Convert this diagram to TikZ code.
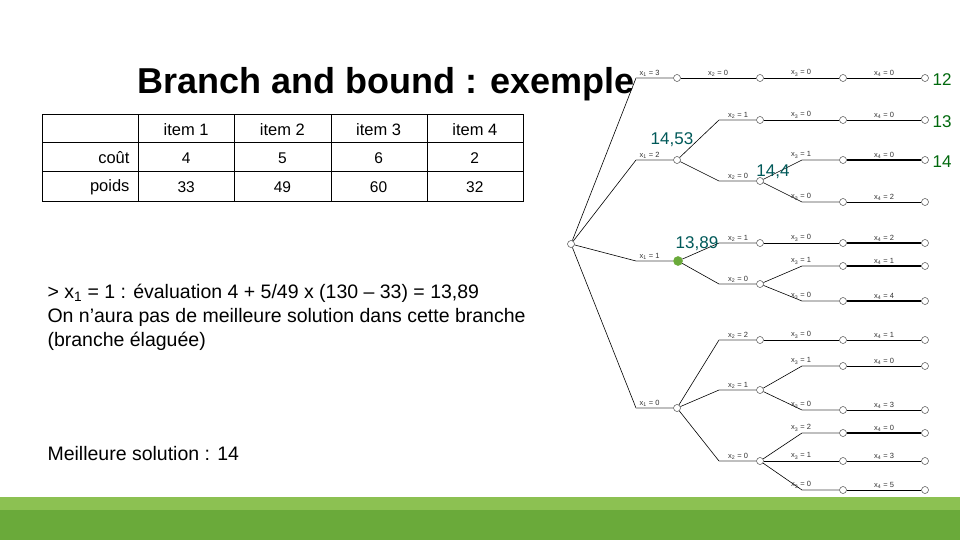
\documentclass[tikz,border=0pt]{standalone}
\usepackage{fontspec}
\setmainfont{Liberation Sans}
\begin{document}
\begin{tikzpicture}[x=1pt,y=-1pt,
  nd/.style={circle,draw=black!70,fill=white,inner sep=0pt,minimum size=7pt,line width=0.5pt},
  lab/.style={font=\fontsize{7.5}{8}\selectfont,text=black!80,anchor=south,inner sep=1.5pt},
  sc/.style={font=\fontsize{17}{18}\selectfont,text=green!40!black!90!teal},
  bd/.style={font=\fontsize{17}{18}\selectfont,text=teal!70!black},
  ed/.style={line width=0.6pt},
  lg/.style={line width=1.2pt,black!25},
  tk/.style={line width=1.4pt},
  tb/.style={font=\fontsize{16.5}{18}\selectfont},
  tn/.style={font=\fontsize{15.5}{18}\selectfont},
  tt/.style={font=\fontsize{19.5}{22}\selectfont,anchor=west}]
\definecolor{gA}{HTML}{8CC152}\definecolor{gB}{HTML}{6AAA3A}
\useasboundingbox (0,0) rectangle (960,540);
\fill[white] (0,0) rectangle (960,540);
\fill[gA] (0,497) rectangle (960,510);
\fill[gB] (0,510) rectangle (960,540);
\node[font=\fontsize{36}{40}\selectfont\bfseries] (title) at (386,84) {Branch and bound : exemple};
% table
\draw[line width=1pt] (42,115) rectangle (523,201);
\foreach \x in {138,234,331,427} \draw[line width=1pt] (\x,115) -- (\x,201);
\draw[line width=1pt] (42,143) -- (523,143) (42,172) -- (523,172);
\foreach \t [count=\i] in {item 1,item 2,item 3,item 4}
  \node[tb] (h\i) at (90+96.2*\i,130) {\t};
\node[tb,anchor=east] (rc) at (133,158) {coût};
\node[tb,anchor=east] (rp) at (133,187) {poids};
\foreach \t [count=\i] in {4,5,6,2}
  \node[tn] (k\i) at (90+96.2*\i,158) {\t};
\foreach \t [count=\i] in {33,49,60,32}
  \node[tn] (p\i) at (90+96.2*\i,187) {\t};
% text
\node[tt] (t1) at (44,293) {> x\textsubscript{1} = 1 : évaluation 4 + 5/49 x (130 – 33) = 13,89};
\node[tt] (t2) at (44,317) {On n’aura pas de meilleure solution dans cette branche};
\node[tt] (t3) at (44,341) {(branche élaguée)};
\node[tt] (t4) at (44,454) {Meilleure solution : 14};
% tree nodes
\node[nd] (r) at (571,244) {};
\node[nd] (a3) at (677,78) {};
\node[nd] (a2) at (677,160) {};
\node[nd,fill=gB,draw=gB,minimum size=9pt] (a1) at (678,261) {};
\node[nd] (a0) at (677,408) {};
\node[nd] (b1) at (760,78) {};
\node[nd] (b2) at (760,120) {};
\node[nd] (b3) at (760,181) {};
\node[nd] (b4) at (760,243) {};
\node[nd] (b5) at (760,284) {};
\node[nd] (b6) at (760,340) {};
\node[nd] (b7) at (760,390) {};
\node[nd] (b8) at (760,461) {};
\foreach \y [count=\i] in {78,120,160,202,243,266,301,340,366,410,433,461,490}{
  \node[nd] (c\i) at (843,\y) {};
  \node[nd] (d\i) at (925,\y) {};
}
% level 1 edges
\foreach \n/\y/\t in {a3/78/3,a2/160/2,a1/261/1,a0/408/0}{
  \coordinate (e\n) at (636,\y);
  \draw[ed] (r) -- (e\n);
  \draw[lg] (e\n) -- (\n);
  \node[lab,anchor=south west] at (638,\y) {x\textsubscript{1} = \t};
}
% level 2
\draw[ed] (a3) -- (b1); \node[lab] at (718,78) {x\textsubscript{2} = 0};
\foreach \p/\n/\y/\t in {a2/b2/120/1,a2/b3/181/0,a1/b4/243/1,a1/b5/284/0,a0/b6/340/2,a0/b7/390/1,a0/b8/461/0}{
  \coordinate (f\n) at (719,\y);
  \draw[ed] (\p) -- (f\n);
  \draw[lg] (f\n) -- (\n);
  \node[lab] at (738,\y) {x\textsubscript{2} = \t};
}
% level 3
\foreach \p/\i/\t/\el in {b1/1/0/0,b2/2/0/0,b3/3/1/1,b3/4/0/1,b4/5/0/0,b5/6/1/1,b5/7/0/1,b6/8/0/0,b7/9/1/1,b7/10/0/1,b8/11/2/1,b8/12/1/0,b8/13/0/1}{
  \ifnum\el=1
    \path (c\i) ++(-41,0) coordinate (g\i);
    \draw[ed] (\p) -- (g\i);
    \draw[lg] (g\i) -- (c\i);
  \else
    \draw[ed] (\p) -- (c\i);
  \fi
  \path (c\i) ++(-42,0) node[lab] {x\textsubscript{3} = \t};
}
% level 4
\foreach \i/\t/\w in {1/0/0,2/0/0,3/0/1,4/2/0,5/2/1,6/1/1,7/4/1,8/1/0,9/0/0,10/3/0,11/0/1,12/3/0,13/5/0}{
  \ifnum\w=1 \draw[tk] (c\i) -- (d\i); \else \draw[ed] (c\i) -- (d\i); \fi
  \path (c\i) ++(41,0) node[lab] {x\textsubscript{4} = \t};
}
\node[sc,anchor=west] (s12) at (929,80) {12};
\node[sc,anchor=west] (s13) at (929,122) {13};
\node[sc,anchor=west] (s14) at (929,162) {14};
\node[bd] (v1) at (672,140) {14,53};
\node[bd] (v2) at (773,172) {14,4};
\node[bd] (v3) at (697,244) {13,89};
\end{tikzpicture}
\end{document}
